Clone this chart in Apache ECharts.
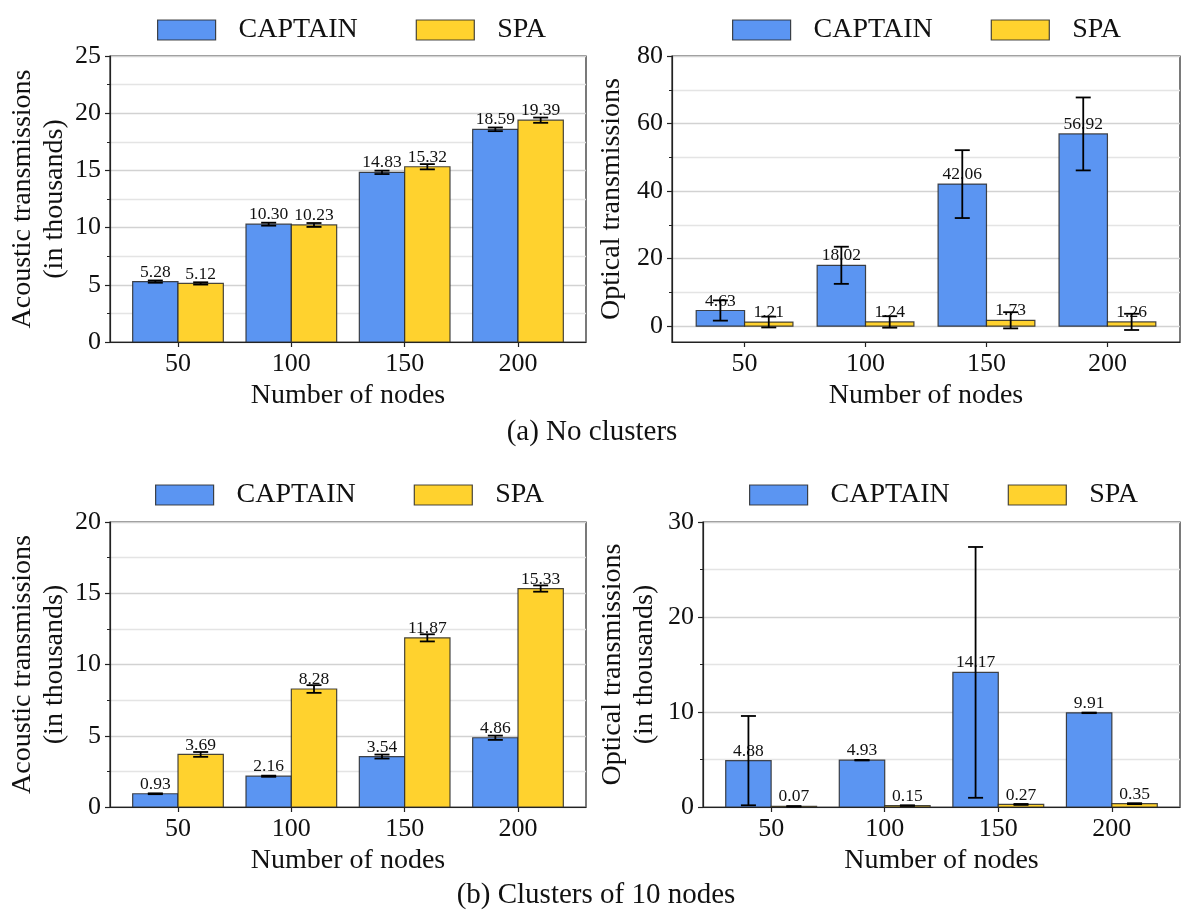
<!DOCTYPE html>
<html>
<head>
<meta charset="utf-8">
<title>CAPTAIN vs SPA transmissions</title>
<script src="https://cdn.jsdelivr.net/npm/echarts@6/dist/echarts.min.js"></script>
<style>
  html, body { margin: 0; padding: 0; background: #fff; }
  #chart { width: 1181px; height: 913px; }
</style>
</head>
<body>
<div id="chart"></div>
<script>
// ---- data ----
const categories = ['50', '100', '150', '200'];
const seriesNames = ['CAPTAIN', 'SPA'];

// (a) No clusters
const acousticCaptainA = [5.28, 10.30, 14.83, 18.59];
const acousticCaptainErrA = [0.10, 0.13, 0.15, 0.16];
const acousticSpaA = [5.12, 10.23, 15.32, 19.39];
const acousticSpaErrA = [0.10, 0.17, 0.23, 0.23];
const opticalCaptainA = [4.63, 18.02, 42.06, 56.92];
const opticalCaptainErrA = [3.0, 5.5, 10.05, 10.8];
const opticalSpaA = [1.21, 1.24, 1.73, 1.26];
const opticalSpaErrA = [1.6, 1.7, 2.4, 2.4];

// (b) Clusters of 10 nodes
const acousticCaptainB = [0.93, 2.16, 3.54, 4.86];
const acousticCaptainErrB = [0.03, 0.04, 0.14, 0.15];
const acousticSpaB = [3.69, 8.28, 11.87, 15.33];
const acousticSpaErrB = [0.17, 0.27, 0.25, 0.22];
const opticalCaptainB = [4.88, 4.93, 14.17, 9.91];
const opticalCaptainErrB = [4.7, 0.03, 13.2, 0.03];
const opticalSpaB = [0.07, 0.15, 0.27, 0.35];
const opticalSpaErrB = [0.02, 0.03, 0.05, 0.05];

// y-axis ticks (major with labels, minor without)
const yMajorAcousticA = [0, 5, 10, 15, 20, 25];
const yMinorAcousticA = [2.5, 7.5, 12.5, 17.5, 22.5];
const yMajorOpticalA = [0, 20, 40, 60, 80];
const yMinorOpticalA = [10, 30, 50, 70];
const yMajorAcousticB = [0, 5, 10, 15, 20];
const yMinorAcousticB = [2.5, 7.5, 12.5, 17.5];
const yMajorOpticalB = [0, 10, 20, 30];
const yMinorOpticalB = [5, 15, 25];

const captionA = '(a) No clusters';
const captionB = '(b) Clusters of 10 nodes';
const xName = 'Number of nodes';

// ---- styling ----
const FONT = 'Liberation Serif';
const BLUE = '#5b95f2';
const YELLOW = '#ffd22e';
const EDGE = 'rgba(40,40,40,0.85)';
const SPINE = '#222';
const BAR_W = 0.4;

const panels = [
  { grid: { left: 110, top: 56, width: 476, height: 286 }, yMin: 0, yMax: 25,
    major: yMajorAcousticA, minor: yMinorAcousticA,
    yName: 'Acoustic transmissions\n(in thousands)', nameGap: 39,
    legend: { left: 152, top: 11 },
    captain: acousticCaptainA, captainErr: acousticCaptainErrA, spa: acousticSpaA, spaErr: acousticSpaErrA },
  { grid: { left: 672, top: 56, width: 508, height: 286 }, yMin: -4.7, yMax: 80,
    major: yMajorOpticalA, minor: yMinorOpticalA,
    yName: 'Optical transmissions', nameGap: 44,
    legend: { left: 727, top: 11 },
    captain: opticalCaptainA, captainErr: opticalCaptainErrA, spa: opticalSpaA, spaErr: opticalSpaErrA },
  { grid: { left: 110, top: 522, width: 476, height: 285 }, yMin: 0, yMax: 20,
    major: yMajorAcousticB, minor: yMinorAcousticB,
    yName: 'Acoustic transmissions\n(in thousands)', nameGap: 39,
    legend: { left: 150, top: 476 },
    captain: acousticCaptainB, captainErr: acousticCaptainErrB, spa: acousticSpaB, spaErr: acousticSpaErrB },
  { grid: { left: 703, top: 522, width: 477, height: 285 }, yMin: 0, yMax: 30,
    major: yMajorOpticalB, minor: yMinorOpticalB,
    yName: 'Optical transmissions\n(in thousands)', nameGap: 42,
    legend: { left: 744, top: 476 },
    captain: opticalCaptainB, captainErr: opticalCaptainErrB, spa: opticalSpaB, spaErr: opticalSpaErrB }
];

// Bar with value label and error bar, positioned through the axis scales.
function barRenderer(offset, color) {
  return function (params, api) {
    const i = api.value(0), v = api.value(1), e = api.value(2);
    const cx = i + offset;
    const tl = api.coord([cx - BAR_W / 2, v]);
    const br = api.coord([cx + BAR_W / 2, 0]);
    const mid = api.coord([cx, v]);
    const lo = api.coord([cx, v - e]);
    const hi = api.coord([cx, v + e]);
    const cap = 7.5;
    return {
      type: 'group',
      children: [
        { type: 'rect',
          shape: { x: tl[0], y: tl[1], width: br[0] - tl[0], height: br[1] - tl[1] },
          style: { fill: color, stroke: EDGE, lineWidth: 1.2 } },
        { type: 'text', x: mid[0], y: mid[1] - 0.5,
          style: { text: v.toFixed(2), fontFamily: FONT, fontSize: 17.5, fill: '#111',
                   align: 'center', verticalAlign: 'bottom' } },
        { type: 'line', shape: { x1: mid[0], y1: lo[1], x2: mid[0], y2: hi[1] },
          style: { stroke: '#000', lineWidth: 1.8 } },
        { type: 'line', shape: { x1: mid[0] - cap, y1: lo[1], x2: mid[0] + cap, y2: lo[1] },
          style: { stroke: '#000', lineWidth: 1.8 } },
        { type: 'line', shape: { x1: mid[0] - cap, y1: hi[1], x2: mid[0] + cap, y2: hi[1] },
          style: { stroke: '#000', lineWidth: 1.8 } }
      ]
    };
  };
}

const grid = [], xAxis = [], yAxis = [], series = [], legend = [];

panels.forEach((p, k) => {
  grid.push(Object.assign({ show: true, borderColor: SPINE, borderWidth: 1.2 }, p.grid));

  xAxis.push({
    type: 'value', gridIndex: k, min: -0.6, max: 3.6,
    name: xName, nameLocation: 'middle', nameGap: 36,
    nameTextStyle: { fontFamily: FONT, fontSize: 28, lineHeight: 32, color: '#111' },
    axisLine: { show: true, onZero: false, lineStyle: { color: SPINE, width: 1.2 } },
    axisTick: { show: true, length: 5, customValues: [0, 1, 2, 3], lineStyle: { color: SPINE, width: 1.2 } },
    axisLabel: { customValues: [0, 1, 2, 3], margin: 7,
                 formatter: v => categories[Math.round(v)],
                 fontFamily: FONT, fontSize: 26, lineHeight: 30, color: '#111' },
    splitLine: { show: false }
  });

  // major ticks, labels and gridlines
  yAxis.push({
    type: 'value', gridIndex: k, min: p.yMin, max: p.yMax, position: 'left',
    name: p.yName, nameLocation: 'middle', nameGap: p.nameGap,
    nameTextStyle: { fontFamily: FONT, fontSize: 28, lineHeight: 32, color: '#111' },
    axisLine: { show: true, onZero: false, lineStyle: { color: SPINE, width: 1.2 } },
    axisTick: { show: true, length: 5, customValues: p.major, lineStyle: { color: SPINE, width: 1.2 } },
    axisLabel: { customValues: p.major, margin: 9, fontFamily: FONT, fontSize: 26, color: '#111' },
    splitLine: { show: true, lineStyle: { color: '#d2d2d2', width: 1.3 } }
  });
  // minor ticks and gridlines
  yAxis.push({
    type: 'value', gridIndex: k, min: p.yMin, max: p.yMax, position: 'left', offset: 0,
    axisLine: { show: false, onZero: false },
    axisTick: { show: true, length: 3, customValues: p.minor, lineStyle: { color: SPINE, width: 1 } },
    axisLabel: { show: false },
    splitLine: { show: true, lineStyle: { color: '#e4e4e4', width: 1.3 } }
  });

  const yIdx = yAxis.length - 2;
  [[p.captain, p.captainErr, -0.2, BLUE, 'CAPTAIN'], [p.spa, p.spaErr, 0.2, YELLOW, 'SPA']]
    .forEach(([vals, errs, off, color, name]) => {
      series.push({
        type: 'custom', name: name, xAxisIndex: k, yAxisIndex: yIdx,
        itemStyle: { color: color, borderColor: EDGE, borderWidth: 1.2 },
        renderItem: barRenderer(off, color),
        data: vals.map((v, i) => [i, v, errs[i]]),
        z: 3, silent: true
      });
    });

  legend.push({
    left: p.legend.left, top: p.legend.top, orient: 'horizontal',
    icon: 'rect', itemWidth: 58, itemHeight: 20, itemGap: 58, selectedMode: false,
    textStyle: { fontFamily: FONT, fontSize: 28, color: '#111', padding: [0, 0, 0, 18] },
    data: [
      { name: seriesNames[0], itemStyle: { color: BLUE, borderColor: EDGE, borderWidth: 1.2 } },
      { name: seriesNames[1], itemStyle: { color: YELLOW, borderColor: EDGE, borderWidth: 1.2 } }
    ]
  });
});

const chart = echarts.init(document.getElementById('chart'), null, { renderer: 'canvas' });
chart.setOption({
  backgroundColor: '#fff',
  animation: false,
  grid, xAxis, yAxis, series, legend,
  graphic: [
    { type: 'text', x: 592, y: 432,
      style: { text: captionA, fontFamily: FONT, fontSize: 29, fill: '#111', align: 'center', verticalAlign: 'middle' } },
    { type: 'text', x: 596, y: 895,
      style: { text: captionB, fontFamily: FONT, fontSize: 29, fill: '#111', align: 'center', verticalAlign: 'middle' } }
  ]
});
</script>
</body>
</html>
